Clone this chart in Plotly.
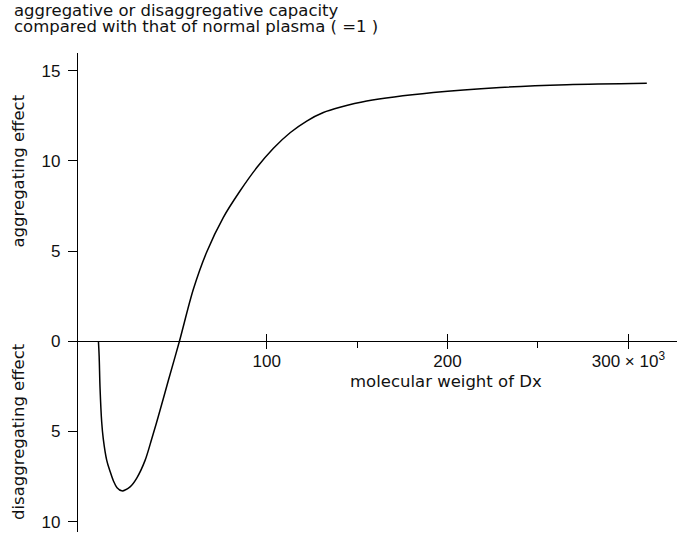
import plotly.graph_objects as go

# molecular weight of Dx (x10^3) and aggregating (+) / disaggregating (-) effect
mw = [6.9, 7.3, 7.8, 8.7, 9.6, 11.5, 13.3, 15.2, 17.2, 19.8, 24.4, 28.1, 32.7,
      36.4, 40.0, 45.6, 51.7, 59.4, 66.8, 76.0, 85.2, 94.5, 103.7, 112.9, 122.1,
      131.3, 140.5, 155.3, 192.1, 229.0, 265.9, 310.2]
effect = [0.0, -0.82, -2.62, -4.47, -5.42, -6.6, -7.2, -7.74, -8.12, -8.29, -8.07,
          -7.58, -6.6, -5.4, -4.17, -2.16, 0.0, 2.88, 4.95, 6.87, 8.33, 9.63, 10.70,
          11.56, 12.21, 12.68, 12.97, 13.32, 13.79, 14.07, 14.22, 14.30]

y_tickvals = [-10, -5, 0, 5, 10, 15]
y_ticktext = ["10", "5", "0", "5", "10", "15"]
x_tickvals = [100, 200, 300]
x_ticktext = ["100", "200", "300 \u00d7 10<sup>3</sup>"]
x_minor = [150, 250]

y_range = [-10.57, 15.98]
x_range = [-4.4, 326.9]
x_pos = (0 - y_range[0]) / (y_range[1] - y_range[0])

tick_font = dict(family="Liberation Sans, Arial", size=17, color="#111")
txt_font = dict(family="DejaVu Sans", size=16.5, color="#111")

PW, PH = 599, 479  # plot area size in px

fig = go.Figure()
fig.add_trace(go.Scatter(x=mw, y=effect, mode="lines",
                         line=dict(color="black", width=1.5, shape="spline", smoothing=0.9),
                         showlegend=False, hoverinfo="skip"))
fig.add_trace(go.Scatter(x=[None], y=[None], xaxis="x2", yaxis="y", mode="lines",
                         showlegend=False, hoverinfo="skip"))

fig.update_layout(
    width=677, height=539,
    margin=dict(l=78, r=0, t=53, b=7),
    paper_bgcolor="white", plot_bgcolor="white",
    xaxis=dict(range=x_range, anchor="free", position=x_pos, showgrid=False, zeroline=False,
               showline=True, linecolor="black", linewidth=1.3,
               tickvals=x_tickvals, ticktext=x_ticktext, ticks="outside", ticklen=7,
               tickwidth=1.3, tickcolor="black", tickfont=tick_font, ticklabelstandoff=-3,
               minor=dict(tickvals=x_minor, ticks="outside", ticklen=6, tickwidth=1.3,
                          tickcolor="black", showgrid=False)),
    xaxis2=dict(range=x_range, overlaying="x", anchor="free", position=x_pos,
                showgrid=False, zeroline=False, showline=False, showticklabels=False,
                tickvals=x_tickvals, ticks="inside", ticklen=7, tickwidth=1.3,
                tickcolor="black"),
    yaxis=dict(range=y_range, showgrid=False, zeroline=False, showline=True,
               linecolor="black", linewidth=1.3, tickvals=y_tickvals, ticktext=y_ticktext,
               ticks="outside", ticklen=9, tickwidth=1.3, tickcolor="black",
               tickfont=tick_font, ticklabelstandoff=4),
    annotations=[
        dict(text="aggregative or disaggregative capacity", xref="paper", yref="paper",
             x=-66 / PW, y=1 + 43 / PH, xanchor="left", yanchor="middle", height=17,
             showarrow=False, font=txt_font),
        dict(text="compared with that of normal plasma ( =1 )", xref="paper", yref="paper",
             x=-66 / PW, y=1 + 26 / PH, xanchor="left", yanchor="middle", height=17,
             showarrow=False, font=txt_font),
        dict(text="aggregating effect", xref="paper", yref="paper",
             x=-60 / PW, y=(532 - 171.5) / PH, xanchor="center", yanchor="middle",
             textangle=-90, showarrow=False, font=txt_font),
        dict(text="disaggregating effect", xref="paper", yref="paper",
             x=-60 / PW, y=(532 - 432) / PH, xanchor="center", yanchor="middle",
             textangle=-90, showarrow=False, font=txt_font),
        dict(text="molecular weight of Dx", xref="paper", yref="paper",
             x=(446 - 78) / PW, y=(532 - 381) / PH, xanchor="center", yanchor="middle",
             showarrow=False, font=txt_font),
    ],
)

fig.write_html("out.html",
               config={"displayModeBar": False},
               post_script="document.body.style.margin='0';"
                           "document.body.style.overflow='hidden';")
